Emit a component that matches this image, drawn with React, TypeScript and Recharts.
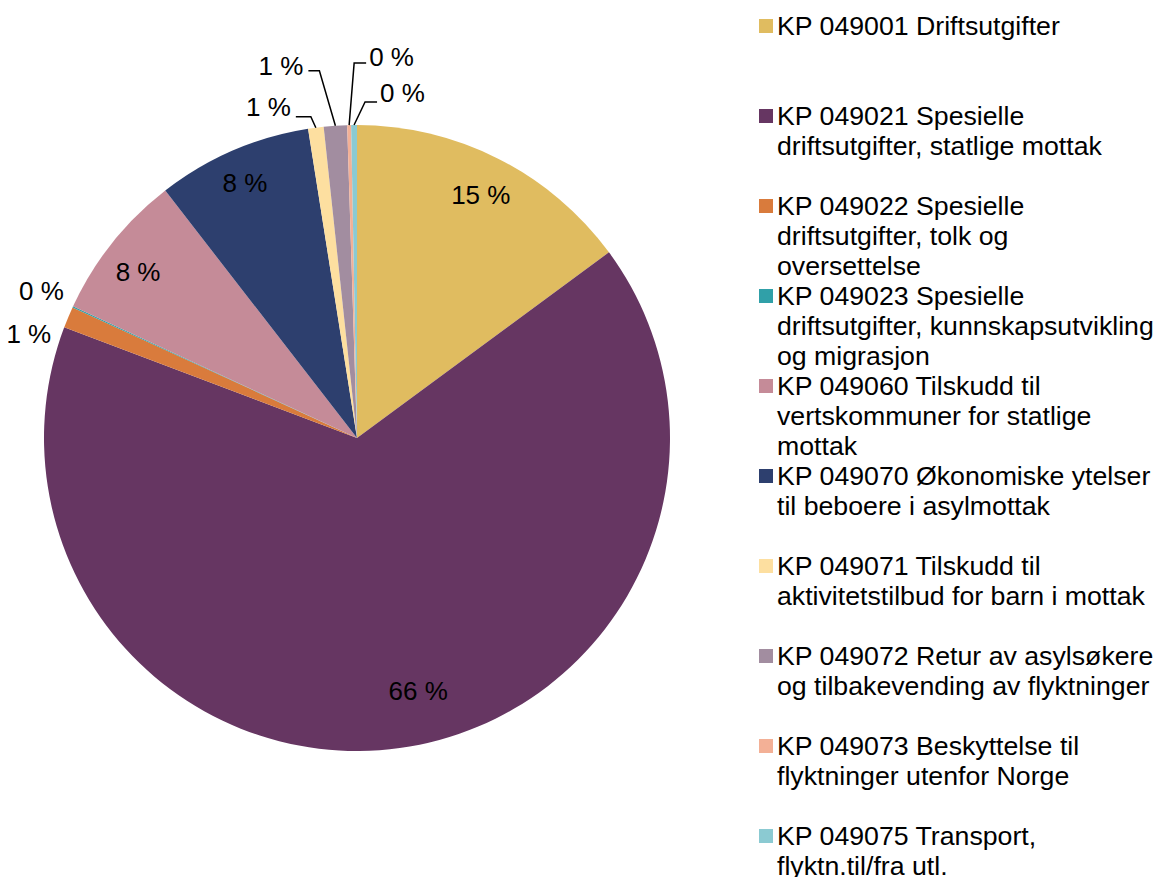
import React from 'react';
import { PieChart, Pie, Cell, Legend } from 'recharts';

const categories = [
  'KP 049001 Driftsutgifter',
  'KP 049021 Spesielle driftsutgifter, statlige mottak',
  'KP 049022 Spesielle driftsutgifter, tolk og oversettelse',
  'KP 049023 Spesielle driftsutgifter, kunnskapsutvikling og migrasjon',
  'KP 049060 Tilskudd til vertskommuner for statlige mottak',
  'KP 049070 Økonomiske ytelser til beboere i asylmottak',
  'KP 049071 Tilskudd til aktivitetstilbud for barn i mottak',
  'KP 049072 Retur av asylsøkere og tilbakevending av flyktninger',
  'KP 049073 Beskyttelse til flyktninger utenfor Norge',
  'KP 049075 Transport, flyktn.til/fra utl.',
];

const legendLines = [
  ['KP 049001 Driftsutgifter'],
  ['KP 049021 Spesielle', 'driftsutgifter, statlige mottak'],
  ['KP 049022 Spesielle', 'driftsutgifter, tolk og', 'oversettelse'],
  ['KP 049023 Spesielle', 'driftsutgifter, kunnskapsutvikling', 'og migrasjon'],
  ['KP 049060 Tilskudd til', 'vertskommuner for statlige', 'mottak'],
  ['KP 049070 Økonomiske ytelser', 'til beboere i asylmottak'],
  ['KP 049071 Tilskudd til', 'aktivitetstilbud for barn i mottak'],
  ['KP 049072 Retur av asylsøkere', 'og tilbakevending av flyktninger'],
  ['KP 049073 Beskyttelse til', 'flyktninger utenfor Norge'],
  ['KP 049075 Transport,', 'flyktn.til/fra utl.'],
];

// share of total, percent
const shares = [14.9, 65.9, 1.1, 0.06, 7.6, 8.0, 0.8, 1.2, 0.2, 0.3];

const colors = [
  '#E0BC60',
  '#663662',
  '#D97B3C',
  '#30A0A8',
  '#C58B98',
  '#2D3F6E',
  '#FDDFA0',
  '#A28DA0',
  '#F3B096',
  '#8BCAD2',
];

const data = categories.map((name, i) => ({ name, value: shares[i] }));

const FONT = '"Liberation Sans", Arial, sans-serif';
const RAD = Math.PI / 180;

type LabelCfg =
  | { kind: 'inside'; nx: number; ny: number }
  | { kind: 'outside'; dx: number; dy: number }
  | { kind: 'leader'; ex: number; ey: number; hx: number; ty: number };

const labelCfg: LabelCfg[] = [
  { kind: 'inside', nx: 1, ny: 0 },
  { kind: 'inside', nx: 24, ny: -17 },
  { kind: 'outside', dx: -17, dy: 17 },
  { kind: 'outside', dx: -9, dy: -16 },
  { kind: 'inside', nx: -6, ny: 4 },
  { kind: 'inside', nx: -4, ny: -5 },
  { kind: 'leader', ex: -5, ey: -11, hx: -15, ty: -10 },
  { kind: 'leader', ex: -16, ey: -55, hx: -11, ty: -5 },
  { kind: 'leader', ex: 5, ey: -62, hx: 12, ty: -6 },
  { kind: 'leader', ex: 11, ey: -23, hx: 12, ty: -9 },
];

const renderLabel = (props: any) => {
  const { cx, cy, midAngle, outerRadius, percent, index } = props;
  const txt = `${Math.round(percent * 100)} %`;
  const cos = Math.cos(-midAngle * RAD);
  const sin = Math.sin(-midAngle * RAD);
  const cfg = labelCfg[index];
  const common = { fontFamily: FONT, fontSize: 26, fill: '#000' };
  if (cfg.kind === 'inside') {
    const r = outerRadius * 0.87;
    return (
      <text
        key={`l${index}`}
        x={cx + r * cos + cfg.nx}
        y={cy + r * sin + cfg.ny}
        textAnchor="middle"
        dominantBaseline="central"
        {...common}
      >
        {txt}
      </text>
    );
  }
  const ex = cx + outerRadius * cos;
  const ey = cy + outerRadius * sin;
  if (cfg.kind === 'outside') {
    return (
      <text
        key={`l${index}`}
        x={ex + cfg.dx}
        y={ey + cfg.dy}
        textAnchor="end"
        dominantBaseline="central"
        {...common}
      >
        {txt}
      </text>
    );
  }
  const bx = ex + cfg.ex;
  const by = ey + cfg.ey;
  const hx = bx + cfg.hx;
  const right = cfg.hx > 0;
  return (
    <g key={`l${index}`}>
      <polyline
        points={`${ex},${ey} ${bx},${by} ${hx},${by}`}
        fill="none"
        stroke="#000"
        strokeWidth={1.5}
      />
      <text
        x={right ? hx + 3 : hx - 5}
        y={by + cfg.ty}
        textAnchor={right ? 'start' : 'end'}
        dominantBaseline="central"
        {...common}
      >
        {txt}
      </text>
    </g>
  );
};

const renderLegend = () => (
  <div style={{ fontFamily: FONT, fontSize: 26.7, color: '#000' }}>
    {legendLines.map((lines, i) => (
      <div key={i} style={{ position: 'relative', height: 90 }}>
        <div
          style={{
            position: 'absolute',
            left: 2,
            top: 8,
            width: 14,
            height: 14,
            background: colors[i],
          }}
        />
        <div style={{ position: 'absolute', left: 20, top: 0, lineHeight: '30px', whiteSpace: 'nowrap' }}>
          {lines.map((l, j) => (
            <div key={j}>{l}</div>
          ))}
        </div>
      </div>
    ))}
  </div>
);

export default function App() {
  return (
    <div
      style={{
        position: 'absolute',
        left: 0,
        top: 0,
        width: 1159,
        height: 877,
        overflow: 'hidden',
        background: '#fff',
      }}
    >
      <PieChart width={1159} height={877} margin={{ top: 0, right: 0, bottom: 0, left: 0 }}>
        <Pie
          data={data}
          dataKey="value"
          nameKey="name"
          cx={357}
          cy={438}
          outerRadius={313}
          startAngle={90}
          endAngle={-270}
          stroke="none"
          label={renderLabel}
          labelLine={false}
          isAnimationActive={false}
        >
          {data.map((d, i) => (
            <Cell key={d.name} fill={colors[i]} stroke="none" />
          ))}
        </Pie>
        <Legend
          content={renderLegend}
          layout="vertical"
          align="right"
          verticalAlign="top"
          wrapperStyle={{ left: 757, top: 11, right: 'auto', bottom: 'auto', width: 402 }}
        />
      </PieChart>
    </div>
  );
}
